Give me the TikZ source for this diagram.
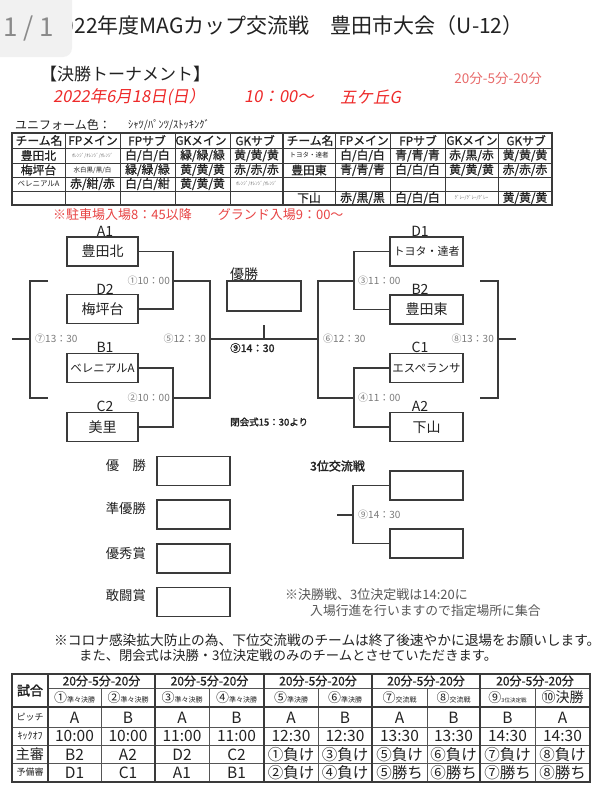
\documentclass[tikz,border=0pt]{standalone}
\usepackage{fontspec}
\setmainfont{Noto Sans CJK JP}
\newfontfamily\jpb{Noto Sans CJK JP}[FakeBold=2]
\newfontfamily\jpm{Noto Sans CJK JP}[FakeBold=0.8]
\newfontfamily\jpit{Noto Sans CJK JP}[FakeSlant=0.18]
\newcommand\fsz[1]{\fontsize{#1}{#1}\selectfont}
\definecolor{ink}{HTML}{222222}
\definecolor{gline}{HTML}{3A3A3A}
\definecolor{thinl}{HTML}{555555}
\definecolor{gtime}{HTML}{7A7A7A}
\definecolor{rdate}{HTML}{EE2A2A}
\definecolor{rnote}{HTML}{E84545}
\definecolor{rtime}{HTML}{E86A6A}
\definecolor{pgbox}{HTML}{F1F1F1}
\definecolor{pgtxt}{HTML}{8A8A8A}
\begin{document}
\begin{tikzpicture}[x=1pt,y=-1pt,
  txt/.style={inner sep=0pt, text=ink},
  teambox/.style={draw=gline, line width=1.4pt, minimum width=71pt, minimum height=29pt, inner sep=0pt, text=ink},
  emptybox/.style={draw=gline, line width=1.4pt, minimum width=73pt, minimum height=29pt, inner sep=0pt},
  seed/.style={inner sep=0pt, text=ink, font=\fsz{14}},
  gtm/.style={inner sep=0pt, text=gtime, font=\fsz{10}},
  wire/.style={draw=gline, line width=1.3pt},
  ucell/.style={inner sep=0pt, text=ink, font=\jpm\fsz{11.8}},
  tiny/.style={inner sep=0pt, text=gtime, font=\fsz{5}},
  scell/.style={inner sep=0pt, text=ink, font=\fsz{15.5}},
  thinrule/.style={draw=thinl, line width=0.7pt},
  thickrule/.style={draw=gline, line width=1.5pt}
]
\path[use as bounding box, fill=white] (0,0) rectangle (600,795);

% ---------- header ----------
\node[txt, anchor=west] (title) at (51,26) {\fsz{21}2022年度MAGカップ交流戦　豊田市大会（U-12）};
\fill[pgbox, rounded corners=9pt] (-12,-12) rectangle (72,57);
\node[inner sep=0pt, text=pgtxt, font=\fsz{26}] (page) at (29,29) {1 / 1};

\node[txt, anchor=west] (kessho) at (40,74) {\fsz{17}【決勝トーナメント】};
\node[inner sep=0pt, text=rtime, anchor=east] (fmt) at (542,79) {\fsz{13.5}20分-5分-20分};
\node[inner sep=0pt, text=rdate, anchor=west] (date) at (53,97) {\jpit\fsz{16.5}2022年6月18日(日）};
\node[inner sep=0pt, text=rdate, anchor=west] (kick) at (244,97) {\jpit\fsz{16.5}10：00～};
\node[inner sep=0pt, text=rdate, anchor=west] (venue) at (340,97) {\jpit\fsz{16.5}五ケ丘G};

% ---------- uniform table ----------
\node[txt, anchor=west] (uni) at (15,125) {\fsz{12}ユニフォーム色：};
\node[txt, anchor=west] (unisub) at (128,125) {\fsz{10.5}ｼｬﾂ/ﾊﾟﾝﾂ/ｽﾄｯｷﾝｸﾞ};

\foreach \yy in {148,163,177,191} \draw[thinrule, draw=gline, line width=1pt] (12,\yy) -- (552,\yy);
\foreach \xx in {65,120,175,230,335,390,445,498} \draw[thinrule, draw=gline, line width=1pt] (\xx,133) -- (\xx,205);
\draw[thickrule] (12,133) rectangle (552,205);
\draw[thickrule, line width=2pt] (283,133) -- (283,205);

\foreach \t [count=\c] in {チーム名,FPメイン,FPサブ,GKメイン,GKサブ} {
  \pgfmathsetmacro\cxL{12+54*(\c-1)+27}
  \pgfmathsetmacro\cxR{283+54*(\c-1)+27}
  \node[ucell] (hL\c) at (\cxL,140.5) {\t};
  \node[ucell] (hR\c) at (\cxR,140.5) {\t};
}
% left rows
\node[ucell] (l11) at (38.5,155.5) {豊田北};
\node[tiny] (l12) at (92.5,155.5) {ｵﾚﾝｼﾞ/ｵﾚﾝｼﾞ/ｵﾚﾝｼﾞ};
\node[ucell] (l13) at (147.5,155.5) {白/白/白};
\node[ucell] (l14) at (202.5,155.5) {緑/緑/緑};
\node[ucell] (l15) at (256.5,155.5) {黄/黄/黄};
\node[ucell] (l21) at (38.5,170) {梅坪台};
\node[inner sep=0pt, text=ink, font=\fsz{6.5}] (l22) at (92.5,170) {水白黒/黒/白};
\node[ucell] (l23) at (147.5,170) {緑/緑/緑};
\node[ucell] (l24) at (202.5,170) {黄/黄/黄};
\node[ucell] (l25) at (256.5,170) {赤/赤/赤};
\node[inner sep=0pt, text=ink, font=\fsz{7.5}] (l31) at (38.5,184) {ベレニアルA};
\node[ucell] (l32) at (92.5,184) {赤/紺/赤};
\node[ucell] (l33) at (147.5,184) {白/白/紺};
\node[ucell] (l34) at (202.5,184) {黄/黄/黄};
\node[tiny] (l35) at (256.5,184) {ｵﾚﾝｼﾞ/ｵﾚﾝｼﾞ/ｵﾚﾝｼﾞ};
% right rows
\node[inner sep=0pt, text=ink, font=\fsz{6.5}] (r11) at (309,155.5) {トヨタ・達者};
\node[ucell] (r12) at (362.5,155.5) {白/白/白};
\node[ucell] (r13) at (417.5,155.5) {青/青/青};
\node[ucell] (r14) at (471.5,155.5) {赤/黒/赤};
\node[ucell] (r15) at (525,155.5) {黄/黄/黄};
\node[ucell] (r21) at (309,170) {豊田東};
\node[ucell] (r22) at (362.5,170) {青/青/青};
\node[ucell] (r23) at (417.5,170) {白/白/白};
\node[ucell] (r24) at (471.5,170) {黄/黄/黄};
\node[ucell] (r25) at (525,170) {赤/赤/赤};
\node[ucell] (r41) at (309,198) {下山};
\node[ucell] (r42) at (362.5,198) {赤/黒/黒};
\node[ucell] (r43) at (417.5,198) {白/白/白};
\node[tiny] (r44) at (471.5,198) {ｸﾞﾚｰ/ｸﾞﾚｰ/ｸﾞﾚｰ};
\node[ucell] (r45) at (525,198) {黄/黄/黄};

\node[inner sep=0pt, text=rnote, anchor=west] (park) at (53,215) {\fsz{13}※駐車場入場8：45以降　　グランド入場9：00～};

% ---------- tournament bracket ----------
\node[teambox, font=\fsz{14}] (bA1) at (102.5,251.5) {豊田北};
\node[teambox, font=\fsz{14}] (bD2) at (102.5,309) {梅坪台};
\node[teambox, font=\fsz{11.5}] (bB1) at (102.5,368) {ベレニアルA};
\node[teambox, font=\fsz{14}] (bC2) at (102.5,427) {美里};
\node[seed] (sA1) at (105,231) {A1};
\node[seed] (sD2) at (105,289) {D2};
\node[seed] (sB1) at (105,347) {B1};
\node[seed] (sC2) at (105,406) {C2};

\node[teambox, minimum width=73pt, font=\fsz{11}] (bD1) at (426.5,251.5) {トヨタ・達者};
\node[teambox, minimum width=73pt, font=\fsz{14}] (bB2) at (426.5,309.5) {豊田東};
\node[teambox, minimum width=73pt, font=\fsz{11.5}] (bC1) at (426.5,368) {エスペランサ};
\node[teambox, minimum width=73pt, font=\fsz{14}] (bA2) at (426.5,427) {下山};
\node[seed] (sD1) at (420,231) {D1};
\node[seed] (sB2) at (420,289) {B2};
\node[seed] (sC1) at (420,347) {C1};
\node[seed] (sA2) at (420,406) {A2};

\coordinate (m1) at (173,281);
\coordinate (m2) at (173,398);
\coordinate (s5) at (210,339);
\coordinate (s6) at (318,339);
\coordinate (m3) at (354,281);
\coordinate (m4) at (354,398);
\coordinate (tk) at (264,325);

\draw[wire] (bA1.east) -| (m1) |- (bD2.east);
\draw[wire] (bB1.east) -| (m2) |- (bC2.east);
\draw[wire] (m1) -| (s5);
\draw[wire] (m2) -| (s5);
\draw[wire] (s5) -- (s6);
\draw[wire] (m3) -| (s6);
\draw[wire] (m4) -| (s6);
\draw[wire] (bD1.west) -| (m3) |- (bB2.west);
\draw[wire] (bC1.west) -| (m4) |- (bA2.west);
\draw[wire] (tk) -- (tk |- s5);

% outer brackets
\coordinate (lo1) at (48,281);
\coordinate (lo2) at (48,398);
\coordinate (l7) at (30,339);
\coordinate (lo3) at (12,339);
\draw[wire] (lo1) -| (l7) |- (lo2);
\draw[wire] (lo3) -- (l7);
\coordinate (ro1) at (480,281);
\coordinate (ro2) at (480,398);
\coordinate (r8) at (498,339);
\coordinate (ro3) at (516,339);
\draw[wire] (ro1) -| (r8) |- (ro2);
\draw[wire] (ro3) -- (r8);

\node[gtm, anchor=east] (t1) at (170,281) {①10：00};
\node[gtm, anchor=east] (t2) at (170,398) {②10：00};
\node[gtm, anchor=west] (t3) at (358,281) {③11：00};
\node[gtm, anchor=west] (t4) at (358,398) {④11：00};
\node[gtm, anchor=east] (t5) at (206,339) {⑤12：30};
\node[gtm, anchor=west] (t6) at (323,339) {⑥12：30};
\node[gtm, anchor=west] (t7) at (35,339) {⑦13：30};
\node[gtm, anchor=east] (t8) at (494,339) {⑧13：30};
\node[inner sep=0pt, text=ink, anchor=west] (t9) at (230,348) {\jpb\fsz{10.5}⑨14：30};

\node[emptybox, minimum width=74pt, minimum height=30pt] (champ) at (264,296) {};
\node[txt, font=\fsz{14}] (champl) at (244,274) {優勝};
\node[inner sep=0pt, text=ink, anchor=west] (closing) at (230,422) {\jpb\fsz{9.5}閉会式15：30より};

% ---------- awards ----------
\node[emptybox] (aw1) at (193.5,471) {};
\node[emptybox] (aw2) at (193.5,514.5) {};
\node[emptybox] (aw3) at (193.5,558.5) {};
\node[emptybox] (aw4) at (193.5,602) {};
\node[txt, anchor=east, font=\fsz{13.3}] (awl1) at (146,465) {優　勝};
\node[txt, anchor=east, font=\fsz{13.3}] (awl2) at (146,508) {準優勝};
\node[txt, anchor=east, font=\fsz{13.3}] (awl3) at (146,553) {優秀賞};
\node[txt, anchor=east, font=\fsz{13.3}] (awl4) at (146,595) {敢闘賞};

% ---------- third place ----------
\node[inner sep=0pt, text=ink, anchor=west] (third) at (310,466) {\jpb\fsz{12}3位交流戦};
\node[emptybox] (tp1) at (426.5,485.5) {};
\node[emptybox] (tp2) at (426.5,543.5) {};
\coordinate (j9) at (353,515);
\coordinate (s9) at (337,515);
\draw[wire] (tp1.west) -| (j9) |- (tp2.west);
\draw[wire] (s9) -- (j9);
\node[gtm, anchor=west] (t9b) at (358,515) {⑨14：30};

\node[txt, anchor=west, text=gtime!60!ink, font=\fsz{13}] (note1) at (285,595) {※決勝戦、3位決定戦は14:20に};
\node[txt, anchor=west, text=gtime!60!ink, font=\fsz{12.8}] (note2) at (310,611) {入場行進を行いますので指定場所に集合};

\node[txt, anchor=west, font=\fsz{13.7}] (cov1) at (54,640) {※コロナ感染拡大防止の為、下位交流戦のチームは終了後速やかに退場をお願いします。};
\node[txt, anchor=west, font=\fsz{13.3}] (cov2) at (79,655) {また、閉会式は決勝・3位決定戦のみのチームとさせていただきます。};

% ---------- schedule table ----------
\foreach \yy in {727,745,763} \draw[thinrule] (12,\yy) -- (590,\yy);
\draw[thinrule] (48,688) -- (590,688);
\foreach \xx in {101,209,318,427,535} \draw[thinrule] (\xx,688) -- (\xx,782);
\foreach \xx in {48,155,264,372,480} \draw[thickrule] (\xx,674) -- (\xx,782);
\draw[thickrule] (12,707) -- (590,707);
\draw[thickrule] (12,674) rectangle (590,782);

\foreach \cx [count=\c] in {101.5,209.5,318,426,535} {
  \node[inner sep=0pt, text=ink, font=\jpm\fsz{12}] (fm\c) at (\cx,681) {20分-5分-20分};
}
\node[txt, font=\jpb\fsz{13}] (sh0) at (30,690.5) {試合};
\node[txt, font=\fsz{9}] (sh1) at (30,717) {ピッチ};
\node[txt, font=\fsz{10}] (sh2) at (30,736) {ｷｯｸｵﾌ};
\node[txt, font=\fsz{14}] (sh3) at (30,754) {主審};
\node[txt, font=\fsz{9}] (sh4) at (30,772.5) {予備審};

\node[txt] (g1) at (74.5,697.5) {\fsz{13}①\fsz{7}準々決勝};
\node[txt] (g2) at (128,697.5) {\fsz{13}②\fsz{7}準々決勝};
\node[txt] (g3) at (182,697.5) {\fsz{13}③\fsz{7}準々決勝};
\node[txt] (g4) at (236.5,697.5) {\fsz{13}④\fsz{7}準々決勝};
\node[txt] (g5) at (291,697.5) {\fsz{13}⑤\fsz{7}準決勝};
\node[txt] (g6) at (345,697.5) {\fsz{13}⑥\fsz{7}準決勝};
\node[txt] (g7) at (399.5,697.5) {\fsz{13}⑦\fsz{7}交流戦};
\node[txt] (g8) at (453.5,697.5) {\fsz{13}⑧\fsz{7}交流戦};
\node[txt] (g9) at (507.5,697.5) {\fsz{13}⑨\fsz{5.5}3位決定戦};
\node[txt] (g10) at (562.5,697.5) {\fsz{14}⑩決勝};

\foreach \cx/\p/\k/\s/\r [count=\c] in {
  74.5/A/10:00/B2/D1,
  128/B/10:00/A2/C1,
  182/A/11:00/D2/A1,
  236.5/B/11:00/C2/B1,
  291/A/12:30/①負け/②負け,
  345/B/12:30/③負け/④負け,
  399.5/A/13:30/⑤負け/⑤勝ち,
  453.5/B/13:30/⑥負け/⑥勝ち,
  507.5/B/14:30/⑦負け/⑦勝ち,
  562.5/A/14:30/⑧負け/⑧勝ち} {
  \node[scell] (pp\c) at (\cx,717.5) {\p};
  \node[scell] (kk\c) at (\cx,736) {\k};
  \node[scell] (ss\c) at (\cx,754.5) {\s};
  \node[scell] (rr\c) at (\cx,773) {\r};
}
\end{tikzpicture}
\end{document}
